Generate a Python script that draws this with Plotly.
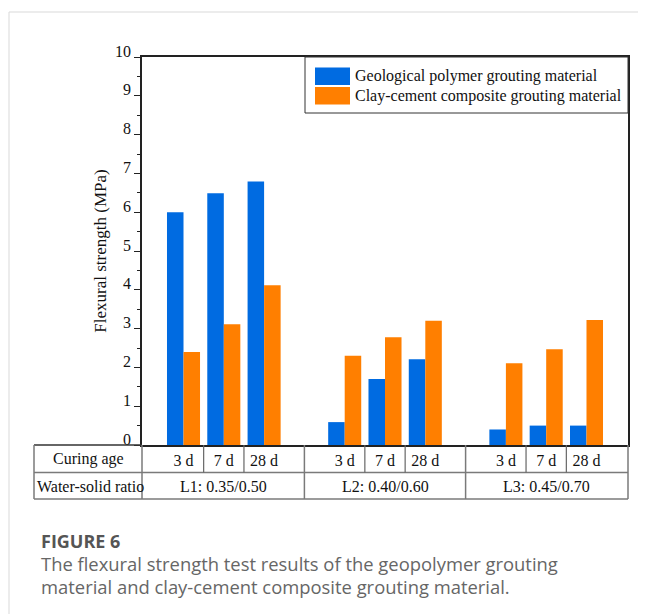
import plotly.graph_objects as go

# ---- data ----
ages = ["3 d", "7 d", "28 d"]
groups = ["L1: 0.35/0.50", "L2: 0.40/0.60", "L3: 0.45/0.70"]
geo_values = [6.00, 6.49, 6.79, 0.59, 1.70, 2.21, 0.40, 0.50, 0.50]
clay_values = [2.40, 3.11, 4.12, 2.30, 2.78, 3.20, 2.11, 2.47, 3.22]
series_names = ["Geological polymer grouting material",
                "Clay-cement composite grouting material"]
y_ticks = list(range(0, 11))

BLUE = "#006BE1"
ORANGE = "#FF7F00"
SERIF = "Liberation Serif"

# positions: 3 ages per group, a gap between groups
xpos = []
tick_text = []
for g in range(len(groups)):
    for a in range(len(ages)):
        xpos.append(4 * g + a + 1)
        tick_text.append(ages[a])
group_centers = [4 * g + 2 for g in range(len(groups))]

XMIN, XMAX = -0.03, 12.03
# page body has an 8px margin; the figure is placed at (8, 8) in the window
OFF = 8
WIN_W, WIN_H = 646, 614
W, H = WIN_W - OFF, WIN_H - OFF
P_L, P_T, P_R, P_B = 142, 57, 628, 445   # plot area in window pixels
ML, MT = P_L - OFF, P_T - OFF
MR, MB = WIN_W - P_R, WIN_H - P_B
PW, PH = P_R - P_L, P_B - P_T


def px(x):  # window pixel x -> paper
    return (x - P_L) / PW


def py(y):  # window pixel y -> paper
    return (P_B - y) / PH


def dx(v):  # data x -> paper
    return (v - XMIN) / (XMAX - XMIN)


fig = go.Figure()
fig.add_trace(go.Bar(x=xpos, y=geo_values, name=series_names[0],
                     marker=dict(color=BLUE, line=dict(width=0)), showlegend=False))
fig.add_trace(go.Bar(x=xpos, y=clay_values, name=series_names[1],
                     marker=dict(color=ORANGE, line=dict(width=0)), showlegend=False))

shapes = []
annotations = []
TL = dict(color="#7a7a7a", width=1.5)

row1_px = 472.5
row2_px = 499
shapes.append(dict(type="line", xref="paper", yref="paper", x0=px(34), x1=0,
                   y0=0, y1=0, line=dict(color="#333", width=1.5)))
for yy in (row1_px, row2_px):
    shapes.append(dict(type="line", xref="paper", yref="paper", x0=px(34), x1=1,
                       y0=py(yy), y1=py(yy), line=TL))
for xp in [px(34), 0, dx(4), dx(8), 1]:
    shapes.append(dict(type="line", xref="paper", yref="paper", x0=xp, x1=xp,
                       y0=0, y1=py(row2_px), line=TL))
for g in range(len(groups)):
    for b in (1.5, 2.5):
        xp = dx(4 * g + b)
        shapes.append(dict(type="line", xref="paper", yref="paper", x0=xp, x1=xp,
                           y0=0, y1=py(row1_px), line=dict(color="#666", width=1.2)))

annotations.append(dict(text="Curing age", xref="paper", yref="paper",
                        x=px(88), y=py(459), showarrow=False, xanchor="center",
                        yanchor="middle", font=dict(family=SERIF, size=16, color="#111")))
annotations.append(dict(text="Water-solid ratio", xref="paper", yref="paper",
                        x=px(34.5), y=py(486), showarrow=False, xanchor="left",
                        yanchor="middle", font=dict(family=SERIF, size=16, color="#111")))
for gc, gname in zip(group_centers, groups):
    annotations.append(dict(text=gname, xref="paper", yref="paper",
                            x=dx(gc), y=py(486), showarrow=False, xanchor="center",
                            yanchor="middle", font=dict(family=SERIF, size=16, color="#111")))

# legend (drawn manually)
shapes.append(dict(type="rect", xref="paper", yref="paper", x0=px(305), x1=1,
                   y0=py(113), y1=1, line=dict(color="#333", width=1)))
for i, (col, name) in enumerate(zip([BLUE, ORANGE], series_names)):
    y0, y1 = (67.5, 85) if i == 0 else (87, 104.5)
    shapes.append(dict(type="rect", xref="paper", yref="paper", x0=px(315), x1=px(350),
                       y0=py(y1), y1=py(y0), fillcolor=col, line=dict(width=0)))
    annotations.append(dict(text=name, xref="paper", yref="paper", x=px(353),
                            y=py((y0 + y1) / 2), showarrow=False, xanchor="left",
                            yanchor="middle", font=dict(family=SERIF, size=16, color="#111")))

# card border
shapes.append(dict(type="line", xref="paper", yref="paper", x0=px(9), x1=px(WIN_W),
                   y0=py(12), y1=py(12), line=dict(color="#d9d9d9", width=1)))
shapes.append(dict(type="line", xref="paper", yref="paper", x0=px(9), x1=px(9),
                   y0=py(12), y1=py(WIN_H), line=dict(color="#d9d9d9", width=1)))

# caption
CAP = "Open Sans"
annotations.append(dict(text="<b>FIGURE 6</b>", xref="paper", yref="paper", x=px(39),
                        y=py(541), showarrow=False, xanchor="left", yanchor="middle",
                        font=dict(family=CAP, size=18, color="#555")))
annotations.append(dict(text="The flexural strength test results of the geopolymer grouting",
                        xref="paper", yref="paper", x=px(39), y=py(563.5), showarrow=False,
                        xanchor="left", yanchor="middle",
                        font=dict(family=CAP, size=18.4, color="#666")))
annotations.append(dict(text="material and clay-cement composite grouting material.",
                        xref="paper", yref="paper", x=px(39), y=py(586.5), showarrow=False,
                        xanchor="left", yanchor="middle",
                        font=dict(family=CAP, size=18.4, color="#666")))

fig.update_layout(
    width=W, height=H,
    margin=dict(l=ML, r=MR, t=MT, b=MB, pad=0),
    paper_bgcolor="white", plot_bgcolor="white",
    barmode="group", bargap=0.18, bargroupgap=0,
    showlegend=False,
    shapes=shapes, annotations=annotations,
    font=dict(family=SERIF, size=16, color="#111"),
)
fig.update_xaxes(range=[XMIN, XMAX], tickvals=xpos, ticktext=tick_text,
                 ticks="", showline=True, linecolor="#222", linewidth=1.5, mirror=True,
                 showgrid=False, zeroline=False, ticklabelstandoff=0,
                 tickfont=dict(family=SERIF, size=16, color="#111"))
fig.update_yaxes(range=[0, 10], tickvals=y_ticks, ticks="outside", ticklen=6,
                 tickwidth=1.2, tickcolor="#222",
                 minor=dict(dtick=0.5, ticks="outside", ticklen=3, tickwidth=1.2,
                            tickcolor="#222", showgrid=False),
                 showline=True, linecolor="#222", linewidth=1.5, mirror=True,
                 showgrid=False, zeroline=False, ticklabelshift=-6, ticklabelstandoff=0,
                 tickfont=dict(family=SERIF, size=16, color="#111"),
                 title=dict(text="Flexural strength (MPa)", standoff=4,
                            font=dict(family=SERIF, size=17, color="#111")))

fig.write_html("out.html")
